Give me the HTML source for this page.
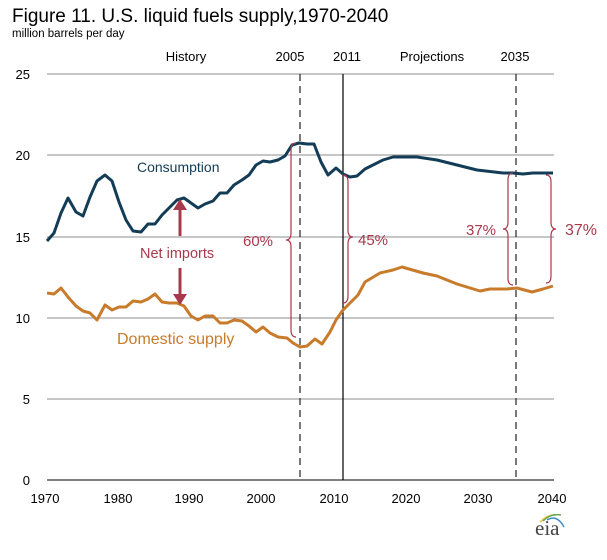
<!DOCTYPE html><html><head><style>body{margin:0;background:#fff}svg{font-family:"Liberation Sans",Arial,sans-serif}</style></head><body>
<svg width="607" height="555" viewBox="0 0 607 555" xmlns="http://www.w3.org/2000/svg">
<text x="12" y="22" font-size="19" fill="#000">Figure 11. U.S. liquid fuels supply,1970-2040</text>
<text x="12" y="37" font-size="11.5" fill="#000">million barrels per day</text>
<g stroke="#8c8c8c" stroke-width="1">
<line x1="47" y1="74" x2="554" y2="74"/><line x1="47" y1="155" x2="554" y2="155"/><line x1="47" y1="237" x2="554" y2="237"/><line x1="47" y1="318" x2="554" y2="318"/><line x1="47" y1="399" x2="554" y2="399"/></g>
<line x1="47" y1="480" x2="554" y2="480" stroke="#000"/>
<g font-size="13" fill="#000" text-anchor="end"><text x="30" y="79">25</text><text x="30" y="160">20</text><text x="30" y="242">15</text><text x="30" y="323">10</text><text x="30" y="404">5</text><text x="30" y="485">0</text></g>
<g font-size="13" fill="#000" text-anchor="middle"><text x="45" y="503">1970</text><text x="118" y="503">1980</text><text x="189" y="503">1990</text><text x="261" y="503">2000</text><text x="334" y="503">2010</text><text x="406" y="503">2020</text><text x="478" y="503">2030</text><text x="552" y="503">2040</text>
<text x="186" y="61">History</text><text x="290" y="61">2005</text><text x="347" y="61">2011</text><text x="432" y="61">Projections</text><text x="515" y="61">2035</text></g>
<line x1="300" y1="74" x2="300" y2="480" stroke="#333" stroke-width="1.3" stroke-dasharray="7,5"/>
<line x1="516" y1="74" x2="516" y2="480" stroke="#333" stroke-width="1.3" stroke-dasharray="7,5"/>
<line x1="343" y1="74" x2="343" y2="480" stroke="#000" stroke-width="1.2"/>
<polyline fill="none" stroke="#133c56" stroke-width="3" stroke-linejoin="round" points="47,241 54,233 61,213 68,198 76,212 83,216 90,197 97,181 105,175 112,181 119,202 126,220 133,231 141,232 148,224 155,224 162,215 169,208 177,200 184,198 191,203 198,208 205,204 213,201 220,193 227,193 234,185 242,180 249,175 256,165 263,161 270,162 278,160 285,156 292,145 299,143 307,144 314,144 321,162 328,175 336,168 343,174 350,177 357,176 365,169 373,165 383,160 393,157 417,157 437,160 457,165 477,170 503,173 513,173 523,174 533,173 553,173"/>
<polyline fill="none" stroke="#c87b2b" stroke-width="3" stroke-linejoin="round" points="47,293 54,294 61,288 68,297 76,306 83,311 90,313 97,320 105,305 112,310 119,307 126,307 133,301 141,302 148,299 155,294 162,302 169,303 177,303 184,306 191,316 198,320 205,316 213,316 220,323 227,323 234,320 242,321 249,326 256,332 263,327 270,333 278,337 287,338 293,343 300,347 307,346 315,339 322,344 330,332 336,320 343,310 358,295 365,282 380,273 393,270 402,267 423,273 437,276 457,284 480,291 490,289 507,289 517,288 532,292 543,289 553,286"/>
<g fill="none" stroke="#a8394c" stroke-width="1.2">
<path d="M296,143 Q291,143 291,150 L291,233 Q291,240 286,240 Q291,240 291,247 L291,330 Q291,337 296,337"/>
<path d="M343,175 Q348,175 348,182 L348,230 Q348,237 353,237 Q348,237 348,244 L348,296 Q348,303 343,303"/>
<path d="M513,173 Q508,173 508,180 L508,222 Q508,229 503,229 Q508,229 508,236 L508,278 Q508,285 513,285"/>
<path d="M546,175 Q551,175 551,182 L551,222 Q551,229 556,229 Q551,229 551,236 L551,276 Q551,283 546,283"/>
</g>
<g fill="#a8394c" font-size="15"><text x="243" y="246">60%</text><text x="358" y="245">45%</text><text x="466" y="235">37%</text><text x="565" y="235" font-size="16">37%</text><text x="140" y="258" font-size="14.5">Net imports</text></g>
<g stroke="#a8394c" stroke-width="3"><line x1="180" y1="208" x2="180" y2="236"/><line x1="180" y1="268" x2="180" y2="296"/></g>
<g fill="#a8394c"><polygon points="173,210 187,210 180,199"/><polygon points="173,294 187,294 180,305"/></g>
<text x="137" y="172" font-size="14" fill="#133c56">Consumption</text>
<text x="117" y="344" font-size="16" fill="#c87b2b">Domestic supply</text>
<path d="M540,522 Q548,514 556,515" fill="none" stroke="#e8c33a" stroke-width="1.5"/>
<path d="M543,521 Q551,513 561,515" fill="none" stroke="#6aa84f" stroke-width="1.5"/>
<path d="M547,520 Q557,514 564,527" fill="none" stroke="#3d8fc6" stroke-width="1.5"/>
<text x="535" y="535" font-size="21" font-family="Liberation Serif,serif" fill="#444">eia</text>
</svg></body></html>
